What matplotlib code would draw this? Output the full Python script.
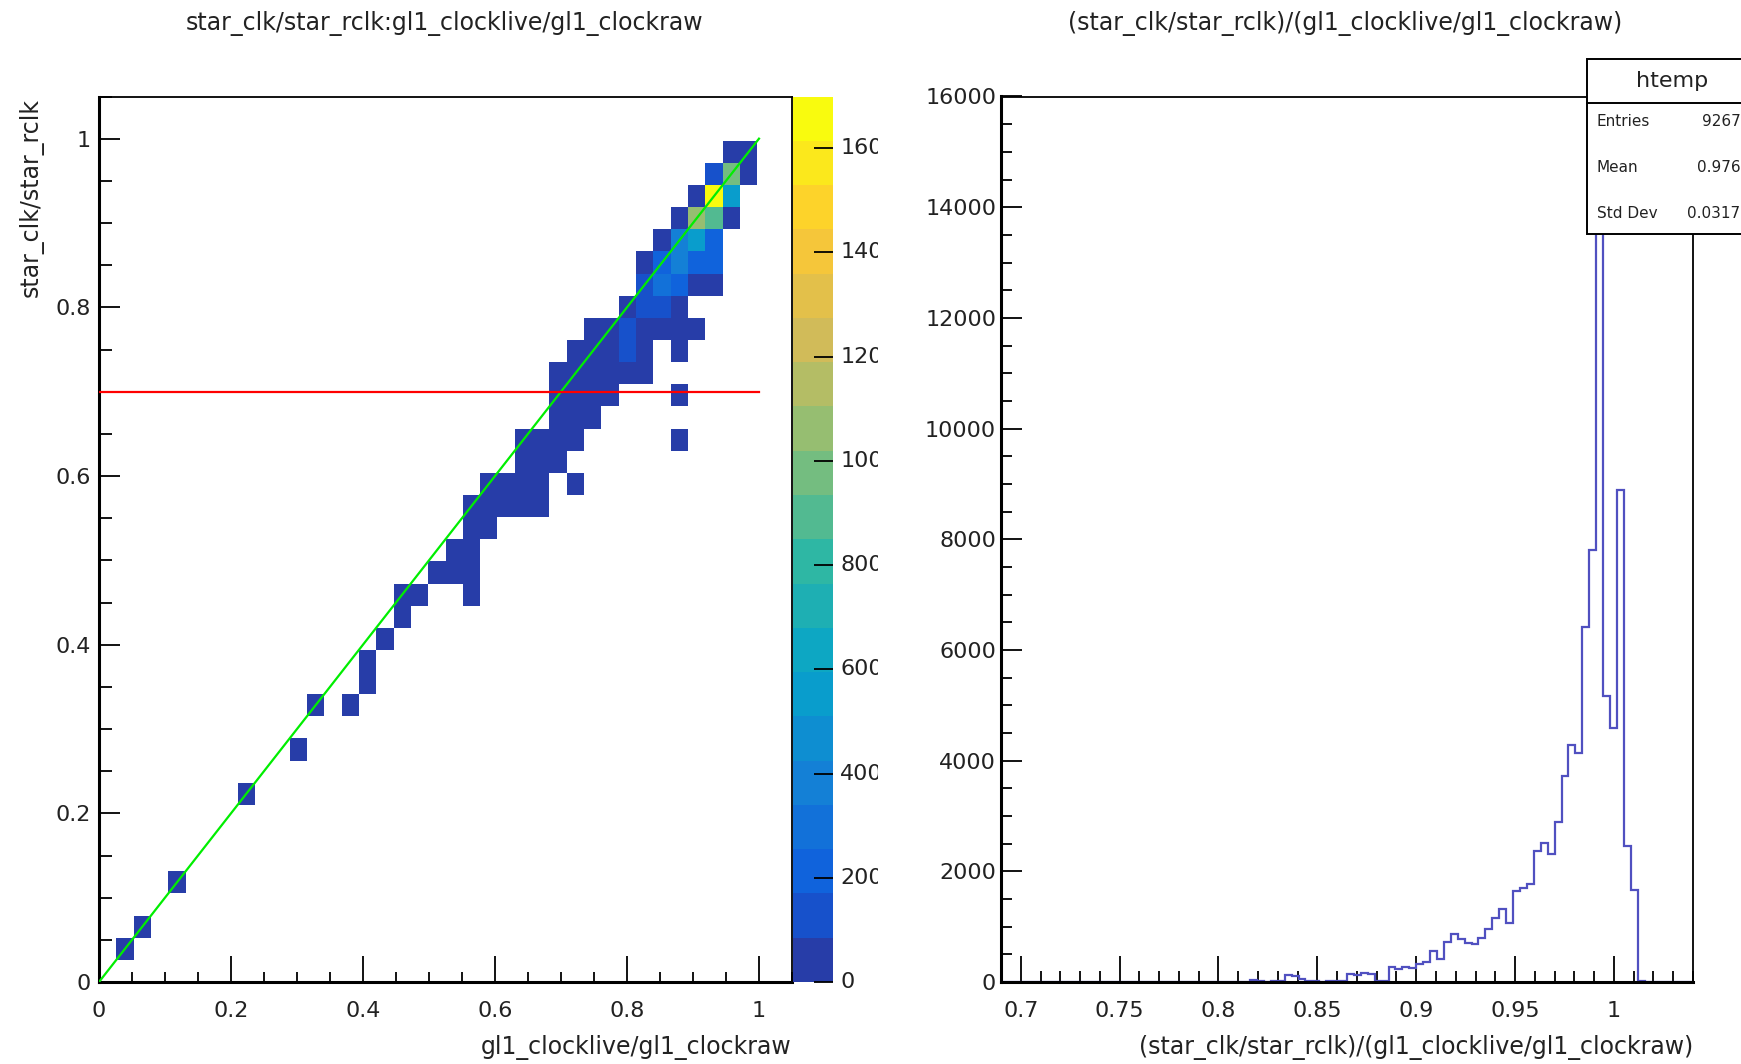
import numpy as np
import matplotlib
matplotlib.use("Agg")
import matplotlib.pyplot as plt
import matplotlib.ticker as mt
from matplotlib.colors import LinearSegmentedColormap, ListedColormap, BoundaryNorm
from matplotlib.patches import Rectangle
from matplotlib.lines import Line2D
from matplotlib.transforms import Bbox, TransformedBbox, blended_transform_factory

plt.rcParams['font.family'] = ['DejaVu Sans']

# ------------------------------------------------------------------ data
# 2D histogram: star_clk/star_rclk (y) vs gl1_clocklive/gl1_clockraw (x)
heat_range = (0.0, 1.05)
heat_nbins = 40
heat_ix = [1, 2, 4, 8, 11, 12, 14, 15, 15, 16, 17,
           17, 18, 21,
           19, 20, 21,
           20, 21,
           21, 22,
           21, 22, 23, 24, 25,
           22, 23, 24, 25, 27,
           24, 25, 26,
           24, 25, 26, 27, 33,
           26, 27, 28,
           26, 27, 28, 29, 33,
           26, 27, 28, 29, 30, 31,
           27, 28, 29, 30, 31, 33,
           28, 29, 30, 31, 32, 33, 34,
           30, 31, 32, 33,
           31, 32, 33, 34, 35,
           31, 32, 33, 34, 35,
           32, 33, 34, 35,
           33, 34, 35, 36,
           34, 35, 36,
           35, 36, 37,
           36, 37]
heat_iy = [1, 2, 4, 8, 10, 12, 12, 13, 14, 15, 16,
           17, 17, 17,
           18, 18, 18,
           19, 19,
           20, 20,
           21, 21, 21, 21, 21,
           22, 22, 22, 22, 22,
           23, 23, 23,
           24, 24, 24, 24, 24,
           25, 25, 25,
           26, 26, 26, 26, 26,
           27, 27, 27, 27, 27, 27,
           28, 28, 28, 28, 28, 28,
           29, 29, 29, 29, 29, 29, 29,
           30, 30, 30, 30,
           31, 31, 31, 31, 31,
           32, 32, 32, 32, 32,
           33, 33, 33, 33,
           34, 34, 34, 34,
           35, 35, 35,
           36, 36, 36,
           37, 37]
heat_counts = [30, 30, 30, 30, 30, 30, 20, 30, 30, 30, 30,
               30, 30, 20,
               40, 40, 40,
               40, 40,
               40, 40,
               50, 50, 50, 50, 50,
               50, 50, 50, 50, 20,
               50, 50, 50,
               60, 60, 60, 60, 20,
               60, 60, 60,
               60, 60, 60, 60, 20,
               60, 60, 60, 60, 60, 60,
               60, 60, 60, 130, 60, 30,
               60, 70, 130, 60, 60, 60, 60,
               70, 140, 140, 60,
               120, 260, 180, 60, 60,
               60, 200, 360, 220, 180,
               60, 420, 550, 220,
               60, 1100, 850, 60,
               60, 1699, 550,
               150, 950, 50,
               60, 60]

heat_xticks = [0, 0.2, 0.4, 0.6, 0.8, 1.0]
heat_xticklabels = ['0', '0.2', '0.4', '0.6', '0.8', '1']
cbar_ticks = [0, 200, 400, 600, 800, 1000, 1200, 1400, 1600]
cbar_ticklabels = ['0', '200', '400', '600', '800', '1000', '1200', '1400', '1600']

cut_value = 0.7

# 1D histogram of the ratio
hist_range = (0.69, 1.04)
hist_nbins = 100
hist_first_bin = 36
hist_counts = [30, 10, 0, 10, 20, 120, 110, 60, 20, 10,
               0, 15, 15, 15, 150, 120, 160, 150, 10, 20,
               280, 230, 270, 250, 330, 370, 560, 420, 730, 870,
               770, 710, 680, 790, 950, 1150, 1320, 1070, 1640, 1690,
               1770, 2370, 2520, 2320, 2900, 3730, 4290, 4130, 6420, 7810,
               15240, 5160, 4590, 8890, 2450, 1660, 25, 5]
hist_xticks = [0.7, 0.75, 0.8, 0.85, 0.9, 0.95, 1.0]
hist_xticklabels = ['0.7', '0.75', '0.8', '0.85', '0.9', '0.95', '1']
hist_yticks = [0, 2000, 4000, 6000, 8000, 10000, 12000, 14000, 16000]
hist_yticklabels = ['0', '2000', '4000', '6000', '8000', '10000', '12000', '14000', '16000']
hist_ymax = 16000

stats_name = 'htemp'
stats_labels = ['Entries', 'Mean', 'Std Dev']
stats_values = ['92675', '0.9765', '0.03175']

# ------------------------------------------------------------------ figure
W, H = 1741, 1064
fig = plt.figure(figsize=(W / 100, H / 100), dpi=100)
fig.patch.set_facecolor('white')


def fx(px):
    return px / W


def fy(py):
    return 1 - py / H


top_px, bot_px = 96.5, 982
axL = fig.add_axes([fx(99), fy(bot_px), fx(792 - 99), (bot_px - top_px) / H])
cax = fig.add_axes([fx(793), fy(bot_px), fx(40), (bot_px - top_px) / H])
axR = fig.add_axes([fx(1001), fy(bot_px), fx(1693 - 1001), (bot_px - top_px) / H])

# ROOT kBird palette, 20 contour levels
stops = [0.0000, 0.1250, 0.2500, 0.3750, 0.5000, 0.6250, 0.7500, 0.8750, 1.0000]
red = [0.2082, 0.0592, 0.0780, 0.0232, 0.1802, 0.5301, 0.8186, 0.9956, 0.9764]
green = [0.1664, 0.3599, 0.5041, 0.6419, 0.7178, 0.7492, 0.7328, 0.7862, 0.9832]
blue = [0.5293, 0.8684, 0.8385, 0.7914, 0.6425, 0.4662, 0.3499, 0.1968, 0.0539]
bird = LinearSegmentedColormap.from_list(
    'bird', list(zip(stops, zip(red, green, blue))), N=255)
ncont = 20
cont_cols = [bird(int((i + 0.99) * 255 / ncont)) for i in range(ncont)]
cmap = ListedColormap(cont_cols)
zmax = max(heat_counts)
levels = np.linspace(0, zmax, ncont + 1)
norm = BoundaryNorm(levels, ncont)

edges = np.linspace(heat_range[0], heat_range[1], heat_nbins + 1)
Z = np.zeros((heat_nbins, heat_nbins))
for ix, iy, c in zip(heat_ix, heat_iy, heat_counts):
    Z[iy, ix] = c
Zm = np.ma.masked_where(Z <= 0, Z)
axL.pcolormesh(edges, edges, Zm, cmap=cmap, norm=norm, edgecolors='face',
               linewidth=0, zorder=1)
axL.plot([heat_range[0], 1.0], [heat_range[0], 1.0], color='#00ee00', lw=1.6, zorder=3)
axL.plot([heat_range[0], 1.0], [cut_value, cut_value], color='#ff0000', lw=1.6, zorder=3)
axL.set_xlim(*heat_range)
axL.set_ylim(*heat_range)

# colorbar
mids = 0.5 * (levels[:-1] + levels[1:])
cax.pcolormesh([0, 1], levels, mids.reshape(-1, 1), cmap=cmap, norm=norm,
               edgecolors='face', linewidth=0)
cax.set_xlim(0, 1)
cax.set_ylim(0, zmax)
for s in cax.spines.values():
    s.set_visible(False)
cax.set_xticks([])
cax.yaxis.set_ticks_position('right')
cax.set_yticks(cbar_ticks)
cax.tick_params(axis='y', direction='in', length=14, width=1.3, labelright=False,
                labelleft=False, right=True, left=False)
clip = TransformedBbox(Bbox([[0, 0], [878 / W, 1]]), fig.transFigure)
btr = blended_transform_factory(cax.transAxes, cax.transData)
for v, lab in zip(cbar_ticks, cbar_ticklabels):
    t = cax.text(1.18, v, lab, transform=btr, ha='left', va='center', fontsize=16,
                 color='#222222')
    t.set_clip_box(clip)
    t.set_clip_on(True)

# axis styling
for ax in (axL, axR):
    for side in ('top', 'right'):
        ax.spines[side].set_linewidth(1.3)
    for side in ('left', 'bottom'):
        ax.spines[side].set_linewidth(2.2)
    ax.tick_params(which='both', direction='in', top=False, right=False, color='black',
                   labelsize=16, labelcolor='#222222')

axL.xaxis.set_major_locator(mt.FixedLocator(heat_xticks))
axL.xaxis.set_major_formatter(mt.FixedFormatter(heat_xticklabels))
axL.yaxis.set_major_locator(mt.FixedLocator(heat_xticks))
axL.yaxis.set_major_formatter(mt.FixedFormatter(heat_xticklabels))
axL.xaxis.set_minor_locator(mt.MultipleLocator(0.05))
axL.yaxis.set_minor_locator(mt.MultipleLocator(0.05))
axL.tick_params(axis='x', which='major', length=19, width=1.3, pad=14)
axL.tick_params(axis='x', which='minor', length=7.5, width=1.3)
axL.tick_params(axis='y', which='major', length=15, width=1.3, pad=6)
axL.tick_params(axis='y', which='minor', length=9, width=1.3)

# 1D histogram
hedges = np.linspace(hist_range[0], hist_range[1], hist_nbins + 1)
hvals = np.zeros(hist_nbins)
hvals[hist_first_bin:hist_first_bin + len(hist_counts)] = hist_counts
axR.stairs(hvals, hedges, color='#5050c0', lw=1.6, baseline=None, zorder=2)
axR.set_xlim(*hist_range)
axR.set_ylim(0, hist_ymax)
axR.xaxis.set_major_locator(mt.FixedLocator(hist_xticks))
axR.xaxis.set_major_formatter(mt.FixedFormatter(hist_xticklabels))
axR.xaxis.set_minor_locator(mt.MultipleLocator(0.01))
axR.yaxis.set_major_locator(mt.FixedLocator(hist_yticks))
axR.yaxis.set_major_formatter(mt.FixedFormatter(hist_yticklabels))
axR.yaxis.set_minor_locator(mt.MultipleLocator(500))
axR.tick_params(axis='x', which='major', length=19, width=1.3, pad=14)
axR.tick_params(axis='x', which='minor', length=8, width=1.3)
axR.tick_params(axis='y', which='major', length=15, width=1.3, pad=3.5)
axR.tick_params(axis='y', which='minor', length=8, width=1.3)

# titles and axis titles
fig.text(fx(444), fy(23), 'star_clk/star_rclk:gl1_clocklive/gl1_clockraw',
         ha='center', va='center', fontsize=17, color='#222222')
fig.text(fx(1345), fy(23), '(star_clk/star_rclk)/(gl1_clocklive/gl1_clockraw)',
         ha='center', va='center', fontsize=17, color='#222222')
fig.text(fx(31), fy(98), 'star_clk/star_rclk', rotation=90, ha='center', va='top',
         fontsize=17, color='#222222')
fig.text(fx(792), fy(1047), 'gl1_clocklive/gl1_clockraw', ha='right', va='center',
         fontsize=17, color='#222222')
fig.text(fx(1693), fy(1047), '(star_clk/star_rclk)/(gl1_clocklive/gl1_clockraw)',
         ha='right', va='center', fontsize=17, color='#222222')

# stats box (extends past the canvas edge, as in the original)
bx0, bx1, by0, by1, bdiv = 1587, 1757, 59, 234, 103
fig.add_artist(Rectangle((fx(bx0), fy(by1)), fx(bx1 - bx0), (by1 - by0) / H,
                         transform=fig.transFigure, facecolor='white',
                         edgecolor='black', lw=1.4, zorder=10))
fig.add_artist(Line2D([fx(bx0), fx(bx1)], [fy(bdiv), fy(bdiv)],
                      transform=fig.transFigure, color='black', lw=1.4, zorder=11))
fig.text(fx(1672), fy(81), stats_name, ha='center', va='center', fontsize=16,
         color='#222222', zorder=12)
for i, (lab, val) in enumerate(zip(stats_labels, stats_values)):
    y = [122, 168, 214][i]
    fig.text(fx(1597), fy(y), lab, ha='left', va='center', fontsize=11,
             color='#222222', zorder=12)
    fig.text(fx(1750), fy(y), val, ha='right', va='center', fontsize=11,
             color='#222222', zorder=12)

fig.savefig('out.png', dpi=100, facecolor='white')
